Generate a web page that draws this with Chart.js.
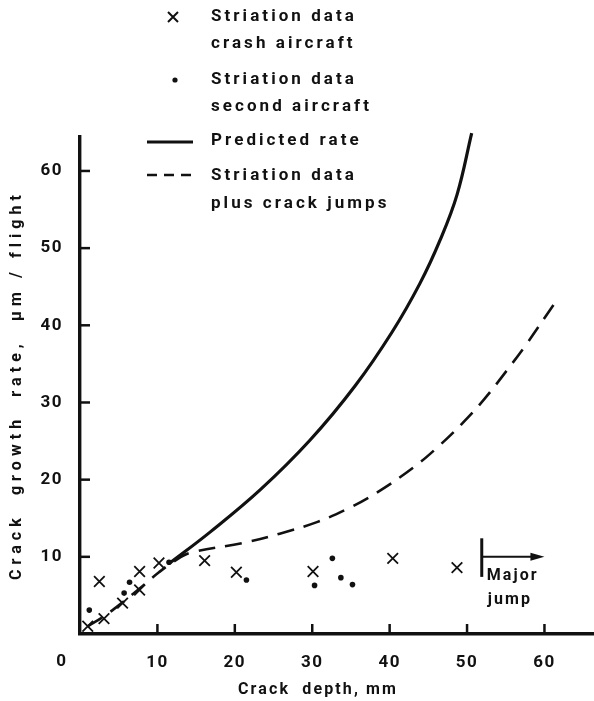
<!DOCTYPE html>
<html>
<head>
<meta charset="utf-8">
<script src="https://cdn.jsdelivr.net/npm/chart.js@4.4.0/dist/chart.umd.min.js"></script>
<style>
  html, body { margin: 0; padding: 0; background: #fff; }
  #wrap { width: 594px; height: 701px; }
</style>
</head>
<body>
<div id="wrap"><canvas id="chart"></canvas></div>
<script>
// tick labels
const xTicks = [10, 20, 30, 40, 50, 60];
const yTicks = [10, 20, 30, 40, 50, 60];

// x = striation data, crash aircraft
const crashX = [1.0, 2.5, 3.1, 5.5, 7.7, 7.7, 10.2, 16.1, 20.2, 30.1, 40.4, 48.7];
const crashY = [1.0, 6.8, 2.0, 4.0, 5.7, 8.1, 9.2, 9.5, 8.0, 8.1, 9.8, 8.6];

// dots = striation data, second aircraft
const secondX = [1.2, 5.7, 6.4, 11.5, 21.5, 30.3, 32.6, 33.7, 35.2];
const secondY = [3.1, 5.3, 6.7, 9.3, 7.0, 6.3, 9.8, 7.3, 6.4];

// solid = predicted rate
const predX = [11.6, 16.8, 23.3, 29.7, 35.5, 40.3, 43.9, 46.5, 48.7, 50.6];
const predY = [9.2, 13.2, 18.7, 25.1, 32.1, 39.1, 45.4, 51.0, 56.9, 64.9];

// dashed = striation data plus crack jumps
const jumpsX = [1.0, 3.1, 5.5, 7.7, 10.2, 12.0, 14.2, 21.1, 25.8, 30.6, 34.5, 38.3, 43.1, 46.3, 49.3, 52.2, 55.1, 57.7, 61.2];
const jumpsY = [1.0, 2.3, 4.1, 5.9, 8.0, 9.3, 10.5, 11.8, 13.0, 14.5, 16.2, 18.3, 21.6, 24.3, 27.2, 30.4, 34.1, 37.6, 42.7];

// "Major jump" marker (data units)
const jumpBarX = 51.9;
const jumpBarY = [7.4, 12.4];
const jumpArrowY = 10.0;
const jumpArrowEnd = 60.0;

const FONT = 'Roboto, "DejaVu Sans", sans-serif';
const INK = '#111';

function pairs(xs, ys) {
  return xs.map((x, i) => ({ x: x, y: ys[i] }));
}

// letter spacing so that text fills a given width
function fitSpacing(ctx, text, width) {
  ctx.letterSpacing = '0px';
  const w = ctx.measureText(text).width;
  return Math.max(0, (width - w) / text.length) + 'px';
}

const spacing = {
  id: 'spacing',
  beforeDraw(chart) {
    chart.ctx.letterSpacing = '1.5px';
  }
};

const decor = {
  id: 'decor',
  afterDraw(chart) {
    const ctx = chart.ctx;
    const x = chart.scales.x;
    const y = chart.scales.y;
    ctx.save();
    ctx.strokeStyle = INK;
    ctx.fillStyle = INK;

    // inward tick marks
    ctx.lineWidth = 2.5;
    xTicks.forEach(v => {
      const px = x.getPixelForValue(v);
      ctx.beginPath();
      ctx.moveTo(px, y.bottom);
      ctx.lineTo(px, y.bottom - 10);
      ctx.stroke();
    });
    yTicks.forEach(v => {
      const py = y.getPixelForValue(v);
      ctx.beginPath();
      ctx.moveTo(x.left, py);
      ctx.lineTo(x.left + 10, py);
      ctx.stroke();
    });

    // origin label
    ctx.font = 'bold 17px ' + FONT;
    ctx.letterSpacing = '1.5px';
    ctx.textAlign = 'center';
    ctx.textBaseline = 'middle';
    ctx.fillText('0', x.left - 18, y.bottom + 28);

    // axis titles
    ctx.font = 'bold 16px ' + FONT;
    const xTitle = 'Crack  depth, mm';
    ctx.letterSpacing = fitSpacing(ctx, xTitle, 160);
    ctx.fillText(xTitle, 318, 690);
    ctx.save();
    ctx.translate(17, 385);
    ctx.rotate(-Math.PI / 2);
    const yTitle = 'Crack  growth  rate,  \u00b5m / flight';
    ctx.letterSpacing = fitSpacing(ctx, yTitle, 390);
    ctx.fillText(yTitle, 0, 0);
    ctx.restore();

    // legend
    ctx.lineWidth = 2;
    ctx.beginPath();
    ctx.moveTo(168, 12); ctx.lineTo(178, 22);
    ctx.moveTo(178, 12); ctx.lineTo(168, 22);
    ctx.stroke();
    ctx.beginPath();
    ctx.arc(175, 80, 2.6, 0, Math.PI * 2);
    ctx.fill();
    ctx.lineWidth = 3;
    ctx.beginPath();
    ctx.moveTo(147, 142); ctx.lineTo(193, 142);
    ctx.stroke();
    ctx.lineWidth = 2.5;
    ctx.setLineDash([10, 7]);
    ctx.beginPath();
    ctx.moveTo(147, 175); ctx.lineTo(193, 175);
    ctx.stroke();
    ctx.setLineDash([]);

    ctx.font = 'bold 17px ' + FONT;
    ctx.letterSpacing = fitSpacing(ctx, 'Striation data', 146);
    ctx.textAlign = 'left';
    const legendLines = [
      ['Striation data', 17], ['crash aircraft', 44],
      ['Striation data', 80], ['second aircraft', 107],
      ['Predicted rate', 141],
      ['Striation data', 176], ['plus crack jumps', 204]
    ];
    legendLines.forEach(l => ctx.fillText(l[0], 211, l[1]));

    // major jump marker
    const bx = x.getPixelForValue(jumpBarX);
    const ay = y.getPixelForValue(jumpArrowY);
    const ax = x.getPixelForValue(jumpArrowEnd);
    ctx.lineWidth = 3;
    ctx.beginPath();
    ctx.moveTo(bx, y.getPixelForValue(jumpBarY[0]));
    ctx.lineTo(bx, y.getPixelForValue(jumpBarY[1]));
    ctx.stroke();
    ctx.lineWidth = 2;
    ctx.beginPath();
    ctx.moveTo(bx, ay);
    ctx.lineTo(ax - 10, ay);
    ctx.stroke();
    ctx.beginPath();
    ctx.moveTo(ax, ay);
    ctx.lineTo(ax - 14, ay - 4);
    ctx.lineTo(ax - 14, ay + 4);
    ctx.closePath();
    ctx.fill();
    ctx.font = 'bold 16px ' + FONT;
    ctx.letterSpacing = fitSpacing(ctx, 'Major', 52);
    ctx.fillText('Major', bx + 5, ay + 19);
    ctx.fillText('jump', bx + 6, ay + 43);

    ctx.restore();
  }
};

const tickFont = { family: FONT, size: 17, weight: 'bold' };
const hiddenGrid = len => ({ display: true, drawOnChartArea: false, drawTicks: true, tickLength: len, color: 'rgba(0,0,0,0)' });

new Chart(document.getElementById('chart'), {
  type: 'scatter',
  data: {
    datasets: [
      {
        label: 'Striation data crash aircraft',
        data: pairs(crashX, crashY),
        pointStyle: 'crossRot',
        pointRadius: 7.5,
        borderColor: INK,
        borderWidth: 1.8
      },
      {
        label: 'Striation data second aircraft',
        data: pairs(secondX, secondY),
        pointStyle: 'circle',
        pointRadius: 2.8,
        backgroundColor: INK,
        borderColor: INK,
        borderWidth: 0
      },
      {
        label: 'Predicted rate',
        data: pairs(predX, predY),
        showLine: true,
        pointRadius: 0,
        borderColor: INK,
        borderWidth: 3.2,
        tension: 0.4,
        clip: false
      },
      {
        label: 'Striation data plus crack jumps',
        data: pairs(jumpsX, jumpsY),
        showLine: true,
        pointRadius: 0,
        borderColor: INK,
        borderWidth: 2.6,
        borderDash: [17, 10],
        tension: 0.4
      }
    ]
  },
  options: {
    responsive: true,
    maintainAspectRatio: false,
    animation: false,
    layout: { autoPadding: false, padding: { top: 137, right: 0, left: 0, bottom: 0 } },
    plugins: { legend: { display: false }, tooltip: { enabled: false } },
    scales: {
      x: {
        type: 'linear',
        min: 0,
        max: 66.4,
        afterBuildTicks: s => { s.ticks = xTicks.map(v => ({ value: v })); },
        afterFit: s => { s.height = 67; },
        grid: hiddenGrid(19),
        border: { color: INK, width: 3.4 },
        ticks: { color: INK, font: tickFont, padding: 0, maxRotation: 0 }
      },
      y: {
        type: 'linear',
        min: 0,
        max: 64.4,
        afterBuildTicks: s => { s.ticks = yTicks.map(v => ({ value: v })); },
        afterFit: s => { s.width = 80; },
        grid: hiddenGrid(17),
        border: { color: INK, width: 3.4 },
        ticks: { color: INK, font: tickFont, padding: 0 }
      }
    }
  },
  plugins: [spacing, decor]
});
</script>
</body>
</html>
